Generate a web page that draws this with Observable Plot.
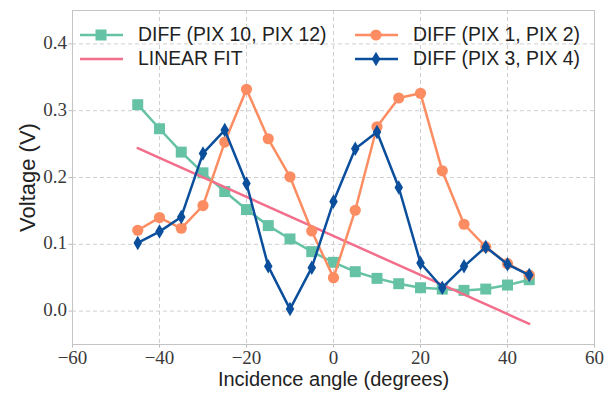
<!DOCTYPE html>
<html>
<head>
<meta charset="utf-8">
<script src="https://cdn.jsdelivr.net/npm/d3@7"></script>
<script src="https://cdn.jsdelivr.net/npm/@observablehq/plot@0.6"></script>
<style>
  html, body { margin: 0; padding: 0; background: #fff; }
  #wrap { position: relative; width: 613px; height: 397px; }
  .leg { position: absolute; font-family: "Liberation Sans", sans-serif; font-size: 19.4px; color: #222; display: flex; align-items: center; white-space: nowrap; }
  .leg svg { margin-right: 15px; }
</style>
</head>
<body>
<div id="wrap"></div>
<script>
const angles = [-45,-40,-35,-30,-25,-20,-15,-10,-5,0,5,10,15,20,25,30,35,40,45];
const pix10_12 = [0.309,0.273,0.238,0.207,0.179,0.152,0.128,0.108,0.089,0.073,0.059,0.049,0.041,0.035,0.033,0.031,0.033,0.039,0.047];
const pix1_2   = [0.121,0.140,0.124,0.158,0.253,0.332,0.258,0.201,0.120,0.050,0.151,0.276,0.319,0.326,0.210,0.130,0.096,0.071,0.054];
const pix3_4   = [0.102,0.119,0.141,0.236,0.271,0.191,0.067,0.003,0.065,0.164,0.243,0.268,0.185,0.072,0.035,0.067,0.096,0.070,0.054];
const fitX = [-45, 45];
const fitY = [0.244, -0.019];
const xTicks = [-60,-40,-20,0,20,40,60];
const yTicks = [0.0,0.1,0.2,0.3,0.4];
const labels = {
  g: "DIFF (PIX 10, PIX 12)",
  o: "DIFF (PIX 1, PIX 2)",
  p: "LINEAR FIT",
  b: "DIFF (PIX 3, PIX 4)",
  x: "Incidence angle (degrees)",
  y: "Voltage (V)"
};
const C = {g: "#66c2a5", o: "#fc8d62", p: "#f36e8b", b: "#0b4f9c"};

const toRows = ys => angles.map((a, i) => ({x: a, y: ys[i]}));
const green = toRows(pix10_12), orange = toRows(pix1_2), blue = toRows(pix3_4);
const fit = fitX.map((x, i) => ({x, y: fitY[i]}));

const thinDiamond = {
  draw(ctx, size) {
    const r = Math.sqrt(size / Math.PI);
    ctx.moveTo(0, -1.45 * r);
    ctx.lineTo(0.85 * r, 0);
    ctx.lineTo(0, 1.45 * r);
    ctx.lineTo(-0.85 * r, 0);
    ctx.closePath();
  }
};

const fmtX = d => d < 0 ? "\u2212" + Math.abs(d) : String(d);
const fmtY = d3.format(".1f");
const sans = "'Liberation Sans', sans-serif";
const serif = "'Liberation Serif', 'DejaVu Serif', serif";

const chart = Plot.plot({
  width: 613, height: 397,
  marginLeft: 72, marginRight: 19, marginTop: 10, marginBottom: 53,
  style: {background: "#fff"},
  x: {domain: [-60, 60], axis: null},
  y: {domain: [-0.05, 0.45], axis: null},
  marks: [
    Plot.gridX(xTicks, {stroke: "#cfcfcf", strokeOpacity: 1, strokeDasharray: "4,3"}),
    Plot.gridY(yTicks, {stroke: "#cfcfcf", strokeOpacity: 1, strokeDasharray: "4,3"}),
    Plot.axisX(xTicks, {tickSize: 3.5, tickFormat: () => "", stroke: "#bbb", label: null}),
    Plot.axisY(yTicks, {tickSize: 3.5, tickFormat: () => "", stroke: "#bbb", label: null}),
    Plot.frame({stroke: "#c4c4c4"}),
    Plot.text(xTicks, {x: d => d, text: fmtX, frameAnchor: "bottom", lineAnchor: "top", dy: 6, fontFamily: serif, fontSize: 19, fill: "#3a3a3a"}),
    Plot.text(yTicks, {y: d => d, text: fmtY, frameAnchor: "left", textAnchor: "end", dx: -5.5, dy: -1, fontFamily: serif, fontSize: 19, fill: "#3a3a3a"}),
    Plot.line(green, {x: "x", y: "y", stroke: C.g, strokeWidth: 2.5}),
    Plot.dot(green, {x: "x", y: "y", symbol: "square", r: 6.2, fill: C.g, stroke: null}),
    Plot.line(fit, {x: "x", y: "y", stroke: C.p, strokeWidth: 2.5}),
    Plot.line(orange, {x: "x", y: "y", stroke: C.o, strokeWidth: 2.5}),
    Plot.dot(orange, {x: "x", y: "y", symbol: "circle", r: 5.6, fill: C.o, stroke: null}),
    Plot.line(blue, {x: "x", y: "y", stroke: C.b, strokeWidth: 2.5}),
    Plot.dot(blue, {x: "x", y: "y", symbol: thinDiamond, r: 5, fill: C.b, stroke: null}),
    Plot.text([labels.x], {text: d => d, frameAnchor: "bottom", textAnchor: "middle", dy: 41, fontFamily: sans, fontSize: 20, fill: "#222"}),
    Plot.text([labels.y], {text: d => d, frameAnchor: "left", textAnchor: "middle", rotate: -90, dx: -45, fontFamily: sans, fontSize: 22, fill: "#222"})
  ]
});

const wrap = document.getElementById("wrap");
wrap.appendChild(chart);

function sample(color, marker) {
  let m = "";
  if (marker === "square") m = `<rect x="15.5" y="5.5" width="11" height="11" fill="${color}"/>`;
  else if (marker === "circle") m = `<circle cx="21" cy="11" r="5.6" fill="${color}"/>`;
  else if (marker === "diamond") m = `<path d="M21,3.8L25.3,11L21,18.2L16.7,11Z" fill="${color}"/>`;
  return `<svg width="43" height="22"><line x1="0" y1="11" x2="43" y2="11" stroke="${color}" stroke-width="2.5"/>${m}</svg>`;
}
const legendItems = [
  {left: 80, top: 23, html: sample(C.g, "square") + labels.g},
  {left: 355, top: 23, html: sample(C.o, "circle") + labels.o},
  {left: 80, top: 47, html: sample(C.p, null) + labels.p},
  {left: 355, top: 47, html: sample(C.b, "diamond") + labels.b}
];
for (const it of legendItems) {
  const d = document.createElement("div");
  d.className = "leg";
  d.style.left = it.left + "px";
  d.style.top = it.top + "px";
  d.innerHTML = it.html;
  wrap.appendChild(d);
}
</script>
</body>
</html>
